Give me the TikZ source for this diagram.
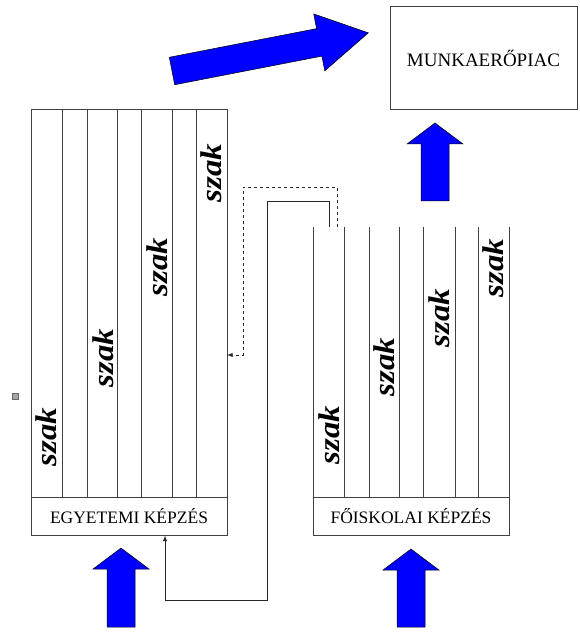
\documentclass[tikz,border=0pt]{standalone}
\usepackage{fontspec}
\setmainfont{Liberation Serif}
\tikzset{
  frame/.style={draw=black!75, line width=1pt},
  band/.style={frame, minimum width=196pt, minimum height=38pt, inner sep=0pt,
    font=\fontsize{17.5}{18}\selectfont},
  szak/.style={rotate=90, inner sep=0pt, xscale=1.1,
    font=\fontsize{30}{30}\selectfont\bfseries\itshape},
  bigarrow/.style={fill=blue, draw=black, line width=0.5pt, line join=miter},
  link/.style={draw=black!85, line width=0.9pt, -latex}
}
\begin{document}
\begin{tikzpicture}[x=1pt, y=-1pt]
  \useasboundingbox (0,0) rectangle (579,636);
  % munkaeropiac
  \node[frame, minimum width=187pt, minimum height=103pt, inner sep=0pt,
    font=\fontsize{19}{19}\selectfont] (piac) at (483.5,58.5) {MUNKAERŐPIAC};
  % big diagonal arrow
  \begin{scope}[shift={(172,71)}, rotate=11]
    \draw[bigarrow] (0,-14) -- (150,-14) -- (150,-29) -- (200,0)
      -- (150,29) -- (150,14) -- (0,14) -- cycle;
  \end{scope}
  % up arrows
  \foreach \ax/\atip/\abot in {435/123/201, 121/548/627, 411/549/627}
    \draw[bigarrow] (\ax,\atip) -- (\ax+28,\atip+21) -- (\ax+14,\atip+21)
      -- (\ax+14,\abot) -- (\ax-14,\abot) -- (\ax-14,\atip+21)
      -- (\ax-28,\atip+21) -- cycle;
  % egyetemi
  \node[band] (egyetem) at (129,516) {EGYETEMI KÉPZÉS};
  \draw[frame] (31,110) rectangle (227,497);
  \foreach \cx in {62,87,117,141,172,196}
    \draw[frame] (\cx,110) -- (\cx,497);
  \node[szak] (e1) at (46,437) {szak};
  \node[szak] (e2) at (103,358) {szak};
  \node[szak] (e3) at (157,267) {szak};
  \node[szak] (e4) at (211,173) {szak};
  % foiskolai
  \node[band] (foisk) at (411,516) {FŐISKOLAI KÉPZÉS};
  \foreach \cx in {313,344,369,399,423,455,478,509}
    \draw[frame] (\cx,227) -- (\cx,497);
  \node[szak] (f1) at (329,435) {szak};
  \node[szak] (f2) at (384,367) {szak};
  \node[szak] (f3) at (439,318) {szak};
  \node[szak] (f4) at (493,268) {szak};
  % small square
  \node[draw=black!60, fill=black!35, minimum size=6pt, inner sep=0pt] (dot) at (15,396) {};
  % connectors
  \coordinate (solidstart) at (329,227);
  \coordinate (dashstart) at (337,227);
  \coordinate (dashend) at (227,355);
  \draw[link] (solidstart) -- (329,201) -- (267,201) -- (267,600) -- (165,600)
    -- (egyetem.south -| 165,0);
  \draw[link, dashed] (dashstart) -- (337,187) -- (243,187) -- (243,355) -- (dashend);
\end{tikzpicture}
\end{document}
